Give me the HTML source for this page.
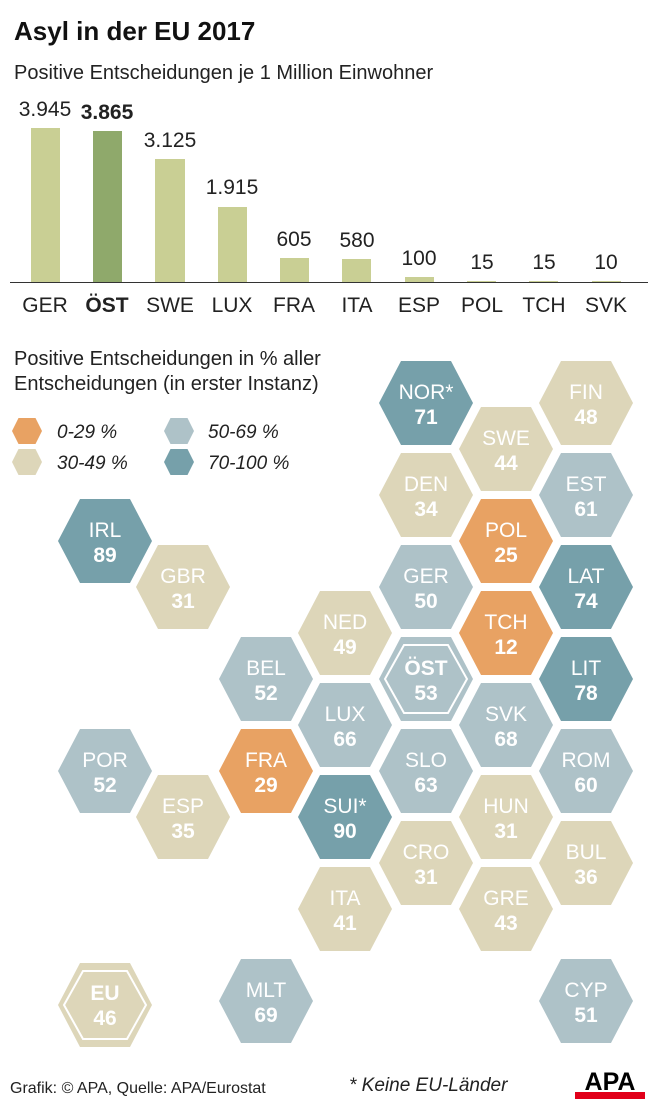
<!DOCTYPE html>
<html><head><meta charset="utf-8"><style>
body{margin:0;background:#fff}
svg{display:block}
text{font-family:"Liberation Sans Narrow","Liberation Sans",sans-serif}
</style></head><body>
<svg width="650" height="1107" viewBox="0 0 650 1107">
<defs>
<polygon id="h" points="-47,0 -25,-42 25,-42 47,0 25,42 -25,42"/>
<polygon id="hs" points="-15,0 -8.5,-13 8.5,-13 15,0 8.5,13 -8.5,13"/>
</defs>
<text x="14" y="40" font-size="26" font-weight="bold" fill="#111">Asyl in der EU 2017</text>
<text x="14" y="79" font-size="20" fill="#222">Positive Entscheidungen je 1 Million Einwohner</text>
<g fill="#c9cf94">
<rect x="31" y="128" width="29" height="154"/>
<rect x="93" y="131" width="29" height="151" fill="#8fa96b"/>
<rect x="155" y="159" width="30" height="123"/>
<rect x="218" y="207" width="29" height="75"/>
<rect x="280" y="258" width="29" height="24"/>
<rect x="342" y="259" width="29" height="23"/>
<rect x="405" y="277" width="29" height="5"/>
<rect x="467" y="281" width="29" height="1"/>
<rect x="529" y="281" width="29" height="1"/>
<rect x="592" y="281" width="29" height="1"/>
</g>
<line x1="10" y1="282.5" x2="648" y2="282.5" stroke="#333" stroke-width="1"/>
<g font-size="21" fill="#222" text-anchor="middle">
<text x="45" y="116">3.945</text><text x="107" y="119" font-weight="bold">3.865</text>
<text x="170" y="147">3.125</text><text x="232" y="194">1.915</text>
<text x="294" y="246">605</text><text x="357" y="247">580</text>
<text x="419" y="265">100</text><text x="482" y="269">15</text>
<text x="544" y="269">15</text><text x="606" y="269">10</text>
<text x="45" y="312">GER</text><text x="107" y="312" font-weight="bold">ÖST</text>
<text x="170" y="312">SWE</text><text x="232" y="312">LUX</text>
<text x="294" y="312">FRA</text><text x="357" y="312">ITA</text>
<text x="419" y="312">ESP</text><text x="482" y="312">POL</text>
<text x="544" y="312">TCH</text><text x="606" y="312">SVK</text>
</g>
<text x="14" y="365" font-size="20" fill="#222">Positive Entscheidungen in % aller</text>
<text x="14" y="390" font-size="20" fill="#222">Entscheidungen (in erster Instanz)</text>
<use href="#hs" x="27" y="431" fill="#e8a263"/>
<use href="#hs" x="27" y="462" fill="#ddd6b9"/>
<use href="#hs" x="179" y="431" fill="#aec2c8"/>
<use href="#hs" x="179" y="462" fill="#76a0aa"/>
<g font-size="19" font-style="italic" fill="#222">
<text x="57" y="438">0-29 %</text><text x="57" y="469">30-49 %</text>
<text x="208" y="438">50-69 %</text><text x="208" y="469">70-100 %</text>
</g>
<g font-size="21" fill="#fff" text-anchor="middle">
<g fill="#76a0aa"><use href="#h" x="426" y="403"/><use href="#h" x="105" y="541"/><use href="#h" x="586" y="587"/><use href="#h" x="586" y="679"/><use href="#h" x="345" y="817"/></g>
<g fill="#ddd6b9"><use href="#h" x="586" y="403"/><use href="#h" x="506" y="449"/><use href="#h" x="426" y="495"/><use href="#h" x="183" y="587"/><use href="#h" x="345" y="633"/><use href="#h" x="183" y="817"/><use href="#h" x="506" y="817"/><use href="#h" x="426" y="863"/><use href="#h" x="586" y="863"/><use href="#h" x="345" y="909"/><use href="#h" x="506" y="909"/><use href="#h" x="105" y="1005"/></g>
<g fill="#aec2c8"><use href="#h" x="586" y="495"/><use href="#h" x="426" y="587"/><use href="#h" x="266" y="679"/><use href="#h" x="426" y="679"/><use href="#h" x="345" y="725"/><use href="#h" x="506" y="725"/><use href="#h" x="105" y="771"/><use href="#h" x="426" y="771"/><use href="#h" x="586" y="771"/><use href="#h" x="266" y="1001"/><use href="#h" x="586" y="1001"/></g>
<g fill="#e8a263"><use href="#h" x="506" y="541"/><use href="#h" x="506" y="633"/><use href="#h" x="266" y="771"/></g>
<polygon points="385,679 404,645 448,645 467,679 448,713 404,713" fill="none" stroke="#fff" stroke-width="2"/>
<polygon points="64,1005 83,971 127,971 146,1005 127,1039 83,1039" fill="none" stroke="#fff" stroke-width="2"/>
<g>
<text x="426" y="399">NOR*</text><text x="426" y="424" font-weight="bold">71</text>
<text x="586" y="399">FIN</text><text x="586" y="424" font-weight="bold">48</text>
<text x="506" y="445">SWE</text><text x="506" y="470" font-weight="bold">44</text>
<text x="426" y="491">DEN</text><text x="426" y="516" font-weight="bold">34</text>
<text x="586" y="491">EST</text><text x="586" y="516" font-weight="bold">61</text>
<text x="105" y="537">IRL</text><text x="105" y="562" font-weight="bold">89</text>
<text x="506" y="537">POL</text><text x="506" y="562" font-weight="bold">25</text>
<text x="183" y="583">GBR</text><text x="183" y="608" font-weight="bold">31</text>
<text x="426" y="583">GER</text><text x="426" y="608" font-weight="bold">50</text>
<text x="586" y="583">LAT</text><text x="586" y="608" font-weight="bold">74</text>
<text x="345" y="629">NED</text><text x="345" y="654" font-weight="bold">49</text>
<text x="506" y="629">TCH</text><text x="506" y="654" font-weight="bold">12</text>
<text x="266" y="675">BEL</text><text x="266" y="700" font-weight="bold">52</text>
<text x="426" y="675" font-weight="bold">ÖST</text><text x="426" y="700" font-weight="bold">53</text>
<text x="586" y="675">LIT</text><text x="586" y="700" font-weight="bold">78</text>
<text x="345" y="721">LUX</text><text x="345" y="746" font-weight="bold">66</text>
<text x="506" y="721">SVK</text><text x="506" y="746" font-weight="bold">68</text>
<text x="105" y="767">POR</text><text x="105" y="792" font-weight="bold">52</text>
<text x="266" y="767">FRA</text><text x="266" y="792" font-weight="bold">29</text>
<text x="426" y="767">SLO</text><text x="426" y="792" font-weight="bold">63</text>
<text x="586" y="767">ROM</text><text x="586" y="792" font-weight="bold">60</text>
<text x="183" y="813">ESP</text><text x="183" y="838" font-weight="bold">35</text>
<text x="345" y="813">SUI*</text><text x="345" y="838" font-weight="bold">90</text>
<text x="506" y="813">HUN</text><text x="506" y="838" font-weight="bold">31</text>
<text x="426" y="859">CRO</text><text x="426" y="884" font-weight="bold">31</text>
<text x="586" y="859">BUL</text><text x="586" y="884" font-weight="bold">36</text>
<text x="345" y="905">ITA</text><text x="345" y="930" font-weight="bold">41</text>
<text x="506" y="905">GRE</text><text x="506" y="930" font-weight="bold">43</text>
<text x="105" y="1000" font-weight="bold">EU</text><text x="105" y="1025" font-weight="bold">46</text>
<text x="266" y="997">MLT</text><text x="266" y="1022" font-weight="bold">69</text>
<text x="586" y="997">CYP</text><text x="586" y="1022" font-weight="bold">51</text>
</g>
</g>
<text x="10" y="1093" font-size="16" fill="#222">Grafik: © APA, Quelle: APA/Eurostat</text>
<text x="349" y="1091" font-size="19" font-style="italic" fill="#222">* Keine EU-Länder</text>
<text x="610" y="1090" font-size="25" font-weight="bold" fill="#000" text-anchor="middle">APA</text>
<rect x="575" y="1092" width="70" height="7" fill="#e1001a"/>
</svg>
</body></html>
